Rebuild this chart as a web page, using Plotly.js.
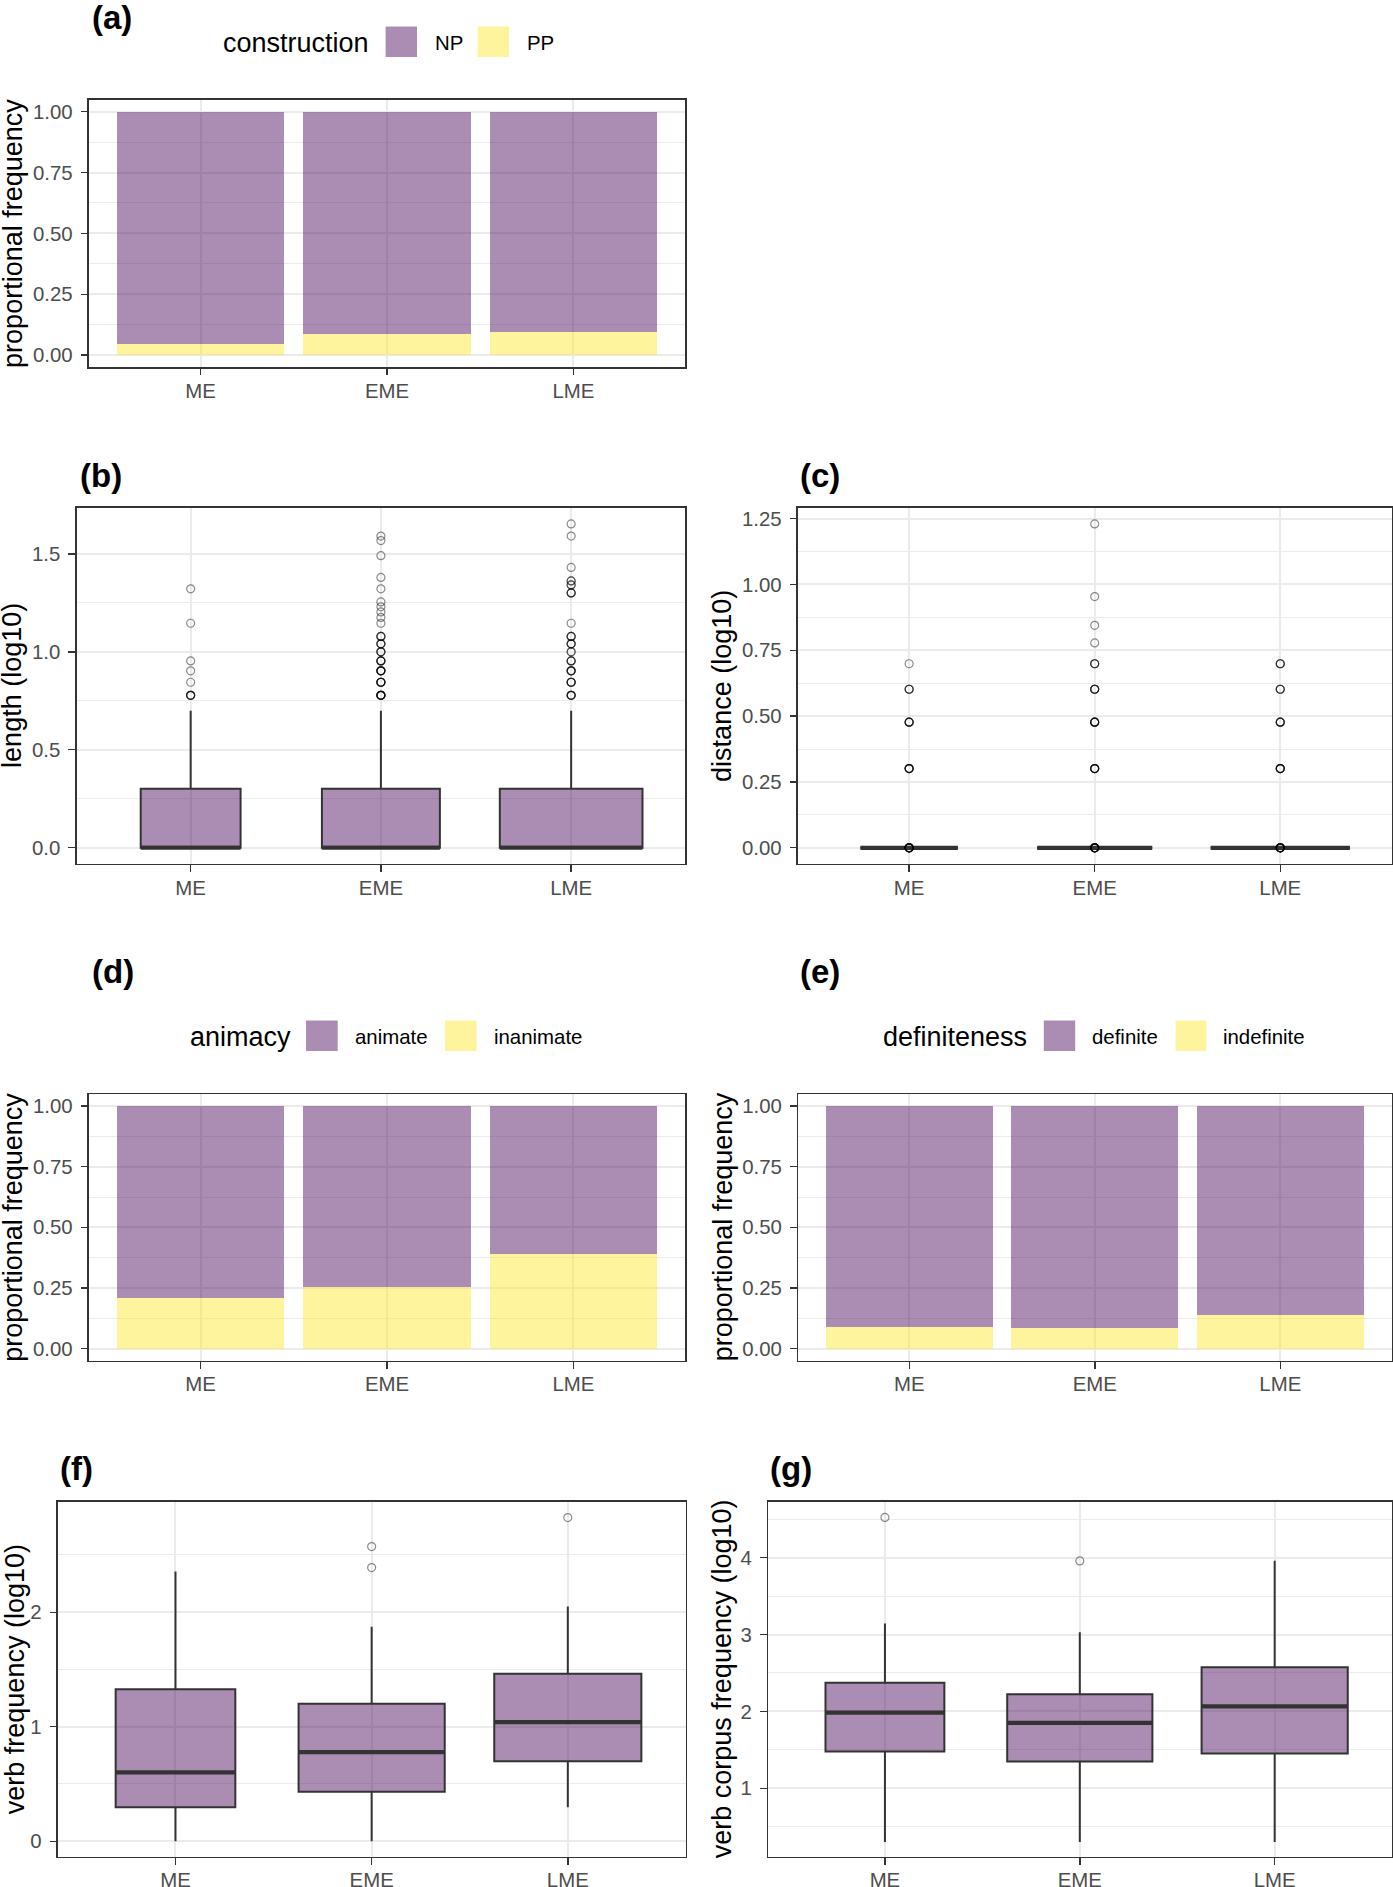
<!DOCTYPE html>
<html>
<head>
<meta charset="utf-8">
<script src="https://cdn.plot.ly/plotly-3.0.1.min.js"></script>
<style>html,body{margin:0;padding:0;background:#fff;}#chart{width:1393px;height:1887px;}</style>
</head>
<body>
<div id="chart"></div>
<script>
// ---------------- DATA ----------------
const periods = ['ME', 'EME', 'LME'];

// (a) construction proportions
const ppProp = [0.044, 0.085, 0.096];
const npProp = [0.956, 0.915, 0.904];

// (d) animacy proportions
const inanimateProp = [0.208, 0.255, 0.389];
const animateProp = [0.792, 0.745, 0.611];

// (e) definiteness proportions
const indefiniteProp = [0.088, 0.085, 0.137];
const definiteProp = [0.912, 0.915, 0.863];

// (b) length (log10) box stats
const lenLow = [0, 0, 0];
const lenQ1 = [0, 0, 0];
const lenMed = [0, 0, 0];
const lenQ3 = [0.301, 0.301, 0.301];
const lenHigh = [0.699, 0.699, 0.699];
const lenOutME = [0.778, 0.845, 0.903, 0.954, 1.146, 1.322];
const lenOutMEn = [4, 1, 1, 1, 1, 1];
const lenOutEME = [0.778, 0.845, 0.903, 0.954, 1.0, 1.041, 1.079, 1.146, 1.176, 1.204, 1.230, 1.255, 1.322, 1.380, 1.491, 1.568, 1.591];
const lenOutEMEn = [6, 5, 5, 4, 3, 3, 3, 1, 1, 1, 1, 1, 1, 1, 1, 1, 1];
const lenOutLME = [0.778, 0.845, 0.903, 0.954, 1.0, 1.041, 1.079, 1.146, 1.301, 1.342, 1.362, 1.431, 1.591, 1.653];
const lenOutLMEn = [4, 4, 4, 3, 2, 3, 3, 1, 3, 2, 2, 1, 1, 1];

// (c) distance (log10) box stats
const distLow = [0, 0, 0];
const distQ1 = [0, 0, 0];
const distMed = [0, 0, 0];
const distQ3 = [0, 0, 0];
const distHigh = [0, 0, 0];
const distOutME = [0, 0.301, 0.477, 0.602, 0.699];
const distOutMEn = [8, 5, 4, 3, 1];
const distOutEME = [0, 0.301, 0.477, 0.602, 0.699, 0.778, 0.845, 0.954, 1.230];
const distOutEMEn = [8, 5, 5, 4, 3, 1, 1, 1, 1];
const distOutLME = [0, 0.301, 0.477, 0.602, 0.699];
const distOutLMEn = [8, 5, 4, 3, 3];

// (f) verb frequency (log10) box stats
const vfLow = [0, 0, 0.297];
const vfQ1 = [0.297, 0.433, 0.698];
const vfMed = [0.602, 0.779, 1.041];
const vfQ3 = [1.328, 1.201, 1.462];
const vfHigh = [2.355, 1.872, 2.049];
const vfOutME = [];
const vfOutEME = [2.390, 2.573];
const vfOutLME = [2.826];

// (g) verb corpus frequency (log10) box stats
const vcLow = [0.301, 0.301, 0.301];
const vcQ1 = [1.477, 1.347, 1.451];
const vcMed = [1.984, 1.850, 2.066];
const vcQ3 = [2.374, 2.223, 2.573];
const vcHigh = [3.144, 3.031, 3.961];
const vcOutME = [4.524];
const vcOutEME = [3.957];
const vcOutLME = [];

// ---------------- STYLE ----------------
const W = 1393, H = 1887;
const FONT = 'Liberation Sans, Arial, Helvetica, sans-serif';
const PURPLE = 'rgba(68,1,84,0.45)';
const YELLOW = 'rgba(253,231,37,0.45)';
const EDGE = '#333333';
const GRID = '#EBEBEB';
const TICKSIZE = 20.4;
const boxWidthsLenDist = [0.525, 0.62, 0.75];
const boxWidthsVerb = [0.61, 0.745, 0.75];
const pos = periods.map((p, i) => i + 1);

const layout = {
  width: W, height: H, autosize: false,
  margin: {l: 0, r: 0, t: 0, b: 0, pad: 0},
  paper_bgcolor: '#ffffff', plot_bgcolor: '#ffffff',
  showlegend: false, barmode: 'stack',
  font: {family: FONT, color: '#000000'},
  annotations: [], shapes: []
};
const data = [];

function axName(n, a) { return a + (n === 1 ? '' : n); }

function makeAxes(n, xd, yd, yr, dt, mdt, fmt) {
  const xk = axName(n, 'xaxis'), yk = axName(n, 'yaxis');
  layout[xk] = {
    domain: [xd[0] / W, xd[1] / W], range: [0.4, 3.6],
    tickmode: 'array', tickvals: pos, ticktext: periods,
    anchor: axName(n, 'y'),
    showgrid: true, gridcolor: GRID, gridwidth: 2,
    showline: true, mirror: true, linecolor: EDGE, linewidth: 1.4,
    ticks: 'outside', ticklen: 6.7, tickwidth: 1.4, tickcolor: EDGE,
    tickfont: {family: FONT, size: TICKSIZE, color: '#4D4D4D'},
    ticklabelstandoff: -2,
    zeroline: false, fixedrange: true
  };
  layout[yk] = {
    domain: [1 - yd[1] / H, 1 - yd[0] / H], range: yr,
    tick0: 0, dtick: dt, tickformat: fmt,
    anchor: axName(n, 'x'),
    showgrid: true, gridcolor: GRID, gridwidth: 2,
    minor: {dtick: mdt, tick0: 0, showgrid: true, gridcolor: GRID, gridwidth: 1, ticks: ''},
    showline: true, mirror: true, linecolor: EDGE, linewidth: 1.4,
    ticks: 'outside', ticklen: 6.7, tickwidth: 1.4, tickcolor: EDGE,
    tickfont: {family: FONT, size: TICKSIZE, color: '#4D4D4D'},
    ticklabelstandoff: 4,
    zeroline: false, fixedrange: true
  };
}

function addBars(n, bottom, top) {
  const xa = axName(n, 'x'), ya = axName(n, 'y');
  data.push({type: 'bar', x: pos, y: bottom, width: 0.9, xaxis: xa, yaxis: ya,
    marker: {color: YELLOW, line: {width: 0}}, hoverinfo: 'skip'});
  data.push({type: 'bar', x: pos, y: top, width: 0.9, xaxis: xa, yaxis: ya,
    marker: {color: PURPLE, line: {width: 0}}, hoverinfo: 'skip'});
}

function addBoxes(n, low, q1, med, q3, high, widths, outs, counts) {
  const xa = axName(n, 'x'), ya = axName(n, 'y');
  periods.forEach((p, i) => {
    data.push({type: 'box', x: [pos[i]], q1: [q1[i]], median: [med[i]], q3: [q3[i]],
      lowerfence: [low[i]], upperfence: [high[i]], width: widths[i],
      xaxis: xa, yaxis: ya, boxpoints: false, whiskerwidth: 0,
      fillcolor: PURPLE, line: {color: EDGE, width: 2}, hoverinfo: 'skip'});
    // thicker median bar (ggplot fatten)
    data.push({type: 'scatter', mode: 'lines', xaxis: xa, yaxis: ya,
      x: [pos[i] - widths[i] / 2, pos[i] + widths[i] / 2], y: [med[i], med[i]],
      line: {color: EDGE, width: 4.2}, hoverinfo: 'skip'});
    // outliers (each observation drawn; overlaps darken)
    const xs = [], ys = [];
    outs[i].forEach((v, k) => {
      const c = counts ? counts[i][k] : 1;
      for (let r = 0; r < c; r++) { xs.push(pos[i]); ys.push(v); }
    });
    if (xs.length) {
      data.push({type: 'scatter', mode: 'markers', xaxis: xa, yaxis: ya, x: xs, y: ys,
        marker: {symbol: 'circle-open', size: 8, color: 'rgba(0,0,0,0.45)', line: {width: 1.2}},
        hoverinfo: 'skip', cliponaxis: false});
    }
  });
}

function ann(text, x, y, size, opts) {
  layout.annotations.push(Object.assign({
    text: text, x: x / W, y: 1 - y / H, xref: 'paper', yref: 'paper',
    showarrow: false, xanchor: 'left', yanchor: 'middle',
    font: {family: FONT, size: size, color: '#000000'}
  }, opts || {}));
}
function swatch(x0, x1, y0, y1, color) {
  layout.shapes.push({type: 'rect', xref: 'paper', yref: 'paper',
    x0: x0 / W, x1: x1 / W, y0: 1 - y1 / H, y1: 1 - y0 / H,
    fillcolor: color, line: {width: 0}, layer: 'above'});
}

// ---------------- PANELS ----------------
// (a)
makeAxes(1, [88.8, 685.2], [99.6, 367.2], [-0.05, 1.05], 0.25, 0.125, '.2f');
addBars(1, ppProp, npProp);
// (b)
makeAxes(2, [76.5, 685.3], [507.7, 864], [-0.083, 1.736], 0.5, 0.25, '.1f');
addBoxes(2, lenLow, lenQ1, lenMed, lenQ3, lenHigh, boxWidthsLenDist,
  [lenOutME, lenOutEME, lenOutLME], [lenOutMEn, lenOutEMEn, lenOutLMEn]);
// (c)
makeAxes(3, [797.8, 1391.6], [507.7, 864], [-0.0615, 1.2915], 0.25, 0.125, '.2f');
addBoxes(3, distLow, distQ1, distMed, distQ3, distHigh, boxWidthsLenDist,
  [distOutME, distOutEME, distOutLME], [distOutMEn, distOutEMEn, distOutLMEn]);
// (d)
makeAxes(4, [88.8, 685.2], [1094, 1360.7], [-0.05, 1.05], 0.25, 0.125, '.2f');
addBars(4, inanimateProp, animateProp);
// (e)
makeAxes(5, [798, 1391.6], [1094, 1360.7], [-0.05, 1.05], 0.25, 0.125, '.2f');
addBars(5, indefiniteProp, definiteProp);
// (f)
makeAxes(6, [57.8, 685.5], [1501.7, 1856.7], [-0.135, 2.965], 1, 0.5, 'd');
addBoxes(6, vfLow, vfQ1, vfMed, vfQ3, vfHigh, boxWidthsVerb, [vfOutME, vfOutEME, vfOutLME], null);
// (g)
makeAxes(7, [768, 1391.6], [1501.7, 1856.7], [0.11, 4.728], 1, 0.5, 'd');
addBoxes(7, vcLow, vcQ1, vcMed, vcQ3, vcHigh, boxWidthsVerb, [vcOutME, vcOutEME, vcOutLME], null);

// ---------------- LABELS ----------------
const panelLabels = [['(a)', 89.7, 17], ['(b)', 78, 476], ['(c)', 798, 476],
  ['(d)', 89.7, 971], ['(e)', 798, 971], ['(f)', 58.3, 1468], ['(g)', 768.5, 1468]];
panelLabels.forEach(p => ann('<b>' + p[0] + '</b>', p[1], p[2], 33));

const yTitles = [['proportional frequency', 13.5, 233.4], ['length (log10)', 12, 685.9],
  ['distance (log10)', 722, 685.9], ['proportional frequency', 13.5, 1227.3],
  ['proportional frequency', 723, 1227.3], ['verb frequency (log10)', 15, 1679.2],
  ['verb corpus frequency (log10)', 722, 1679.2]];
yTitles.forEach(t => ann(t[0], t[1], t[2], 27, {textangle: -90, xanchor: 'center'}));

// legends
ann('construction', 221, 42.7, 27);
swatch(385.6, 417, 26.5, 57, PURPLE); ann('NP', 432.7, 42.7, TICKSIZE);
swatch(477.6, 509, 26.5, 57, YELLOW); ann('PP', 524.7, 42.7, TICKSIZE);

ann('animacy', 188, 1036.7, 27);
swatch(306, 337.7, 1020.5, 1051, PURPLE); ann('animate', 353, 1036.7, TICKSIZE);
swatch(445, 476.7, 1020.5, 1051, YELLOW); ann('inanimate', 492, 1036.7, TICKSIZE);

ann('definiteness', 881, 1036.7, 27);
swatch(1043.8, 1075.2, 1020.5, 1051, PURPLE); ann('definite', 1090, 1036.7, TICKSIZE);
swatch(1175.5, 1206.4, 1020.5, 1051, YELLOW); ann('indefinite', 1221.4, 1036.7, TICKSIZE);

Plotly.newPlot('chart', data, layout, {staticPlot: true, displayModeBar: false});
</script>
</body>
</html>
